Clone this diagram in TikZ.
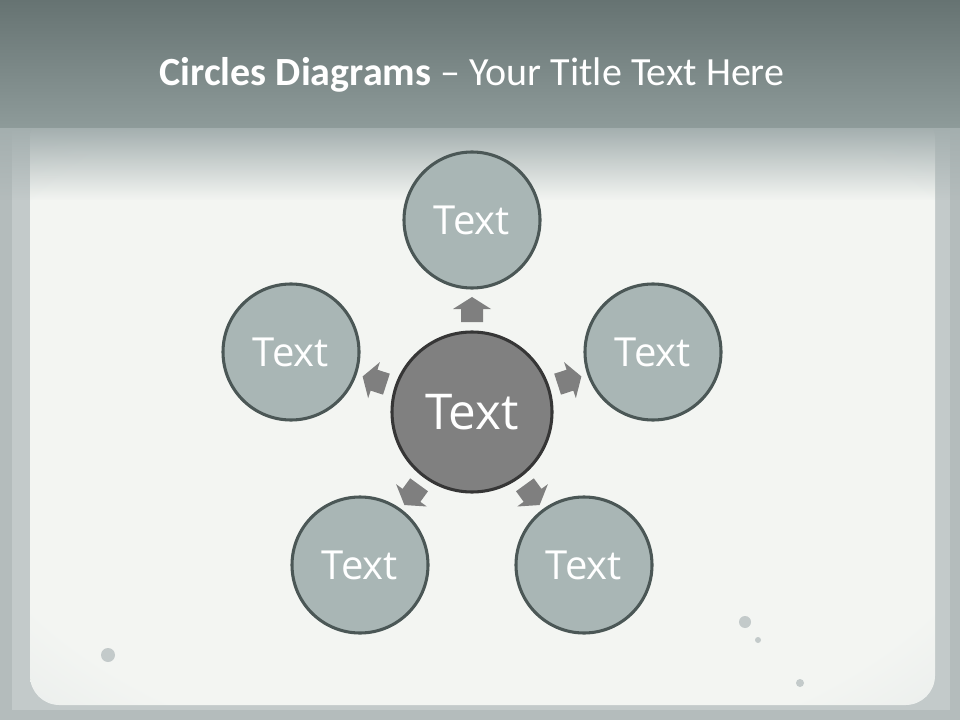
\documentclass[tikz,border=0pt]{standalone}
\usepackage{fontspec}
\usetikzlibrary{fadings}
\setmainfont{Open Sans}
\newfontfamily\titlefont{Carlito}
\definecolor{frameC}{HTML}{C3CACA}
\definecolor{panelIn}{HTML}{F3F5F2}
\definecolor{panelOut}{HTML}{D9DFDF}
\definecolor{hdTop}{HTML}{667372}
\definecolor{hdBot}{HTML}{8E9B9A}
\definecolor{outerFill}{HTML}{A9B6B5}
\definecolor{outerLine}{HTML}{4B5756}
\definecolor{centerFill}{HTML}{808080}
\definecolor{centerLine}{HTML}{363636}
\definecolor{arrowC}{HTML}{7F7F7F}
\definecolor{stain}{HTML}{B4BCBC}
\pgfdeclareradialshading{vignette}{\pgfpoint{0bp}{0bp}}{color(0bp)=(panelIn); color(30bp)=(panelIn); color(50bp)=(panelOut); color(75bp)=(panelOut)}
\tikzset{
  outercirc/.style={circle, draw=outerLine, line width=2.3pt, fill=outerFill, minimum size=102pt, inner sep=0pt, text=white, font=\fontsize{30}{32}\selectfont},
  centercirc/.style={circle, draw=centerLine, line width=2.3pt, fill=centerFill, minimum size=120pt, inner sep=0pt, text=white, font=\fontsize{37}{40}\selectfont},
  arrowfill/.style={fill=arrowC},
}
\newcommand\blockarrow[1]{\fill[arrowfill, rotate=#1] (90,-11) -- (103,-11) -- (103,-19) -- (115,0) -- (103,19) -- (103,11) -- (90,11) -- cycle;}
\begin{document}
\begin{tikzpicture}[x=0.75pt,y=-0.75pt]
\useasboundingbox (0,0) rectangle (960,720);
% background frame
\fill[frameC] (0,0) rectangle (960,720);
\fill[stain] (0,128) rectangle (12,720);
\fill[stain] (950,128) rectangle (960,720);
\fill[stain] (0,710) rectangle (960,720);
% inner panel
\path[shading=vignette, rounded corners=22pt] (30,110) rectangle (935,705);
% header
\shade[top color=hdTop, bottom color=hdBot] (0,0) rectangle (960,128);
\fill[hdBot!70!panelOut, path fading=south] (0,128) rectangle (960,200);
% faint stains
\fill[stain!60!panelOut] (745,622) circle (6);
\fill[stain!60!panelOut] (758,640) circle (3);
\fill[stain!60!panelOut] (108,655) circle (7);
\fill[stain!60!panelOut] (800,683) circle (4);
% title
\node[font=\titlefont\fontsize{30}{34}\selectfont, text=white] (title) at (472,75) {\textbf{Circles Diagrams} – Your Title Text Here};
% circles
\node[centercirc] (c) at (472,412) {Text};
\node[outercirc] (t) at (472,220) {Text};
\node[outercirc] (r) at (653,352) {Text};
\node[outercirc] (l) at (291,352) {Text};
\node[outercirc] (br) at (584,565) {Text};
\node[outercirc] (bl) at (360,565) {Text};
% arrows
\begin{scope}[shift={(c.center)}]
\blockarrow{90}
\blockarrow{18}
\blockarrow{162}
\blockarrow{-54}
\blockarrow{-126}
\end{scope}
\end{tikzpicture}
\end{document}
